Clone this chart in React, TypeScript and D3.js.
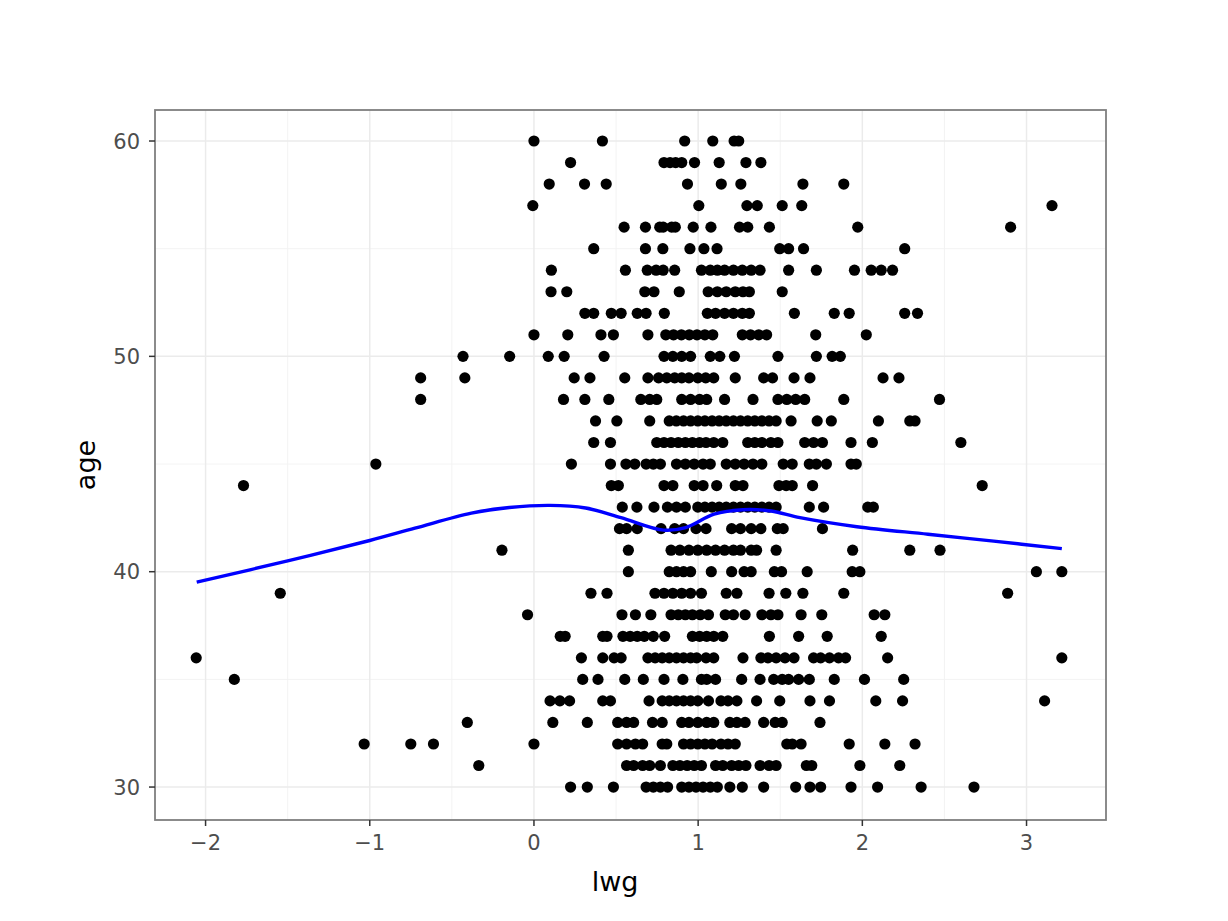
import React from "react";
import * as d3 from "d3";

const ages = [60, 59, 58, 57, 56, 55, 54, 53, 52, 51, 50, 49, 48, 47, 46, 45, 44, 43, 42, 41, 40, 39, 38, 37, 36, 35, 34, 33, 32, 31, 30];

const lwgByAge: number[][] = [
  [0, 0.417, 0.918, 1.089, 1.219, 1.247],
  [0.223, 0.792, 0.829, 0.863, 0.9, 0.978, 1.128, 1.291, 1.382],
  [0.093, 0.308, 0.44, 0.935, 1.141, 1.26, 1.638, 1.887],
  [-0.007, 1.004, 1.297, 1.36, 1.512, 1.631, 3.155],
  [0.549, 0.679, 0.766, 0.787, 0.839, 0.861, 0.97, 1.078, 1.252, 1.302, 1.434, 1.972, 2.903],
  [0.364, 0.679, 0.785, 0.95, 1.035, 1.115, 1.497, 1.551, 1.642, 2.258],
  [0.106, 0.557, 0.69, 0.744, 0.787, 0.857, 1.02, 1.074, 1.117, 1.161, 1.215, 1.269, 1.323, 1.377, 1.551, 1.72, 1.952, 2.054, 2.115, 2.184],
  [0.104, 0.2, 0.675, 0.731, 0.885, 1.061, 1.117, 1.171, 1.226, 1.273, 1.312, 1.512],
  [0.31, 0.364, 0.471, 0.531, 0.629, 0.683, 0.794, 1.056, 1.106, 1.161, 1.215, 1.269, 1.312, 1.586, 1.829, 1.92, 2.258, 2.336],
  [0, 0.206, 0.408, 0.484, 0.694, 0.803, 0.85, 0.898, 0.946, 0.993, 1.041, 1.089, 1.269, 1.319, 1.369, 1.417, 1.716, 2.024],
  [-0.432, -0.148, 0.087, 0.184, 0.427, 0.792, 0.846, 0.9, 0.954, 1.074, 1.132, 1.221, 1.486, 1.72, 1.816, 1.866],
  [-0.69, -0.421, 0.245, 0.341, 0.553, 0.694, 0.759, 0.809, 0.857, 0.9, 0.944, 0.998, 1.046, 1.095, 1.226, 1.399, 1.453, 1.584, 1.681, 2.126, 2.223],
  [-0.69, 0.18, 0.31, 0.456, 0.651, 0.705, 0.748, 0.9, 0.954, 1.009, 1.052, 1.161, 1.334, 1.486, 1.54, 1.594, 1.649, 1.887, 2.47],
  [0.375, 0.505, 0.705, 0.824, 0.867, 0.911, 0.954, 0.998, 1.041, 1.085, 1.128, 1.171, 1.215, 1.258, 1.302, 1.345, 1.388, 1.432, 1.475, 1.566, 1.725, 1.811, 2.098, 2.289, 2.321],
  [0.364, 0.466, 0.748, 0.792, 0.835, 0.879, 0.922, 0.965, 1.009, 1.048, 1.095, 1.15, 1.302, 1.345, 1.388, 1.443, 1.486, 1.649, 1.703, 1.757, 1.931, 2.061, 2.6],
  [-0.963, 0.228, 0.466, 0.56, 0.614, 0.683, 0.727, 0.77, 0.868, 0.922, 0.976, 1.03, 1.074, 1.171, 1.226, 1.28, 1.334, 1.388, 1.518, 1.573, 1.677, 1.72, 1.781, 1.931, 1.963],
  [-1.769, 0.471, 0.514, 0.792, 0.846, 0.976, 1.03, 1.113, 1.226, 1.273, 1.492, 1.536, 1.573, 1.697, 2.73],
  [0.538, 0.627, 0.731, 0.813, 0.868, 0.922, 0.998, 1.041, 1.085, 1.128, 1.171, 1.215, 1.258, 1.302, 1.345, 1.388, 1.432, 1.475, 1.677, 1.764, 2.033, 2.067],
  [0.521, 0.564, 0.629, 0.774, 0.857, 0.911, 0.987, 1.048, 1.204, 1.258, 1.323, 1.382, 1.482, 1.518, 1.757],
  [-0.195, 0.575, 0.835, 0.889, 0.944, 0.998, 1.052, 1.106, 1.161, 1.215, 1.258, 1.323, 1.356, 1.475, 1.941, 2.289, 2.473],
  [0.575, 0.824, 0.868, 0.911, 0.954, 1.08, 1.204, 1.28, 1.323, 1.464, 1.508, 1.664, 1.938, 1.985, 3.06, 3.215],
  [-1.545, 0.347, 0.445, 0.737, 0.792, 0.846, 0.9, 0.954, 1.02, 1.171, 1.236, 1.432, 1.534, 1.638, 1.887, 2.885],
  [-0.039, 0.536, 0.618, 0.712, 0.835, 0.879, 0.922, 0.965, 1.013, 1.063, 1.165, 1.215, 1.286, 1.388, 1.443, 1.486, 1.627, 1.753, 2.072, 2.137],
  [0.16, 0.19, 0.419, 0.445, 0.542, 0.586, 0.629, 0.672, 0.727, 0.796, 0.965, 1.009, 1.052, 1.095, 1.15, 1.434, 1.612, 1.786, 2.115],
  [-2.057, 0.289, 0.419, 0.488, 0.531, 0.694, 0.738, 0.781, 0.824, 0.868, 0.911, 0.954, 0.991, 1.048, 1.095, 1.273, 1.382, 1.425, 1.475, 1.529, 1.584, 1.703, 1.746, 1.8, 1.855, 1.898, 2.154, 3.215],
  [-1.825, 0.297, 0.39, 0.553, 0.666, 0.792, 0.907, 1.02, 1.052, 1.106, 1.265, 1.377, 1.46, 1.512, 1.551, 1.612, 1.677, 1.829, 2.013, 2.252],
  [0.098, 0.158, 0.217, 0.419, 0.466, 0.701, 0.781, 0.824, 0.868, 0.911, 0.954, 0.998, 1.063, 1.139, 1.182, 1.236, 1.356, 1.497, 1.681, 1.8, 2.082, 2.245, 3.11],
  [-0.406, 0.115, 0.325, 0.51, 0.564, 0.607, 0.722, 0.781, 0.9, 0.944, 0.998, 1.052, 1.095, 1.193, 1.236, 1.286, 1.399, 1.469, 1.512, 1.742],
  [-1.034, -0.75, -0.612, 0, 0.51, 0.564, 0.618, 0.662, 0.781, 0.809, 0.911, 0.954, 0.998, 1.041, 1.085, 1.139, 1.182, 1.226, 1.54, 1.573, 1.627, 1.92, 2.137, 2.321],
  [-0.336, 0.564, 0.607, 0.662, 0.705, 0.77, 0.846, 0.889, 0.933, 0.976, 1.02, 1.106, 1.15, 1.204, 1.247, 1.291, 1.377, 1.432, 1.475, 1.659, 1.692, 1.985, 2.228],
  [0.223, 0.325, 0.484, 0.683, 0.727, 0.77, 0.814, 0.9, 0.944, 0.987, 1.03, 1.074, 1.117, 1.193, 1.269, 1.399, 1.594, 1.681, 1.746, 1.931, 2.093, 2.358, 2.68],
];

const smoothX = [-2.054, -1.5, -1.0, -0.725, -0.381, -0.15, 0.097, 0.315, 0.53, 0.79, 0.924, 1.097, 1.272, 1.444, 1.62, 1.967, 2.4, 2.8, 3.215];
const smoothY = [39.52, 40.5, 41.45, 42.02, 42.72, 42.98, 43.08, 42.96, 42.51, 41.93, 42.05, 42.67, 42.88, 42.82, 42.51, 42.09, 41.74, 41.42, 41.07];

const xTicks = [-2, -1, 0, 1, 2, 3];
const xMinor = [-1.5, -0.5, 0.5, 1.5, 2.5];
const yTicks = [30, 40, 50, 60];
const yMinor = [35, 45, 55];

const W = 1228;
const H = 921;
const L = 155, R = 1106, T = 110, B = 820;

export default function App() {
  const x = d3.scaleLinear().domain([-2.308, 3.484]).range([L, R]);
  const y = d3.scaleLinear().domain([28.47, 61.44]).range([B, T]);

  const points: { lx: number; ag: number }[] = [];
  ages.forEach((a, i) => lwgByAge[i].forEach((v) => points.push({ lx: v, ag: a })));

  const line = d3
    .line<number>()
    .x((_, i) => x(smoothX[i]))
    .y((d) => y(d))
    .curve(d3.curveCatmullRom.alpha(0.5));

  const font = "DejaVu Sans, sans-serif";

  return (
    <svg width={W} height={H} style={{ position: "absolute", left: 0, top: 0, background: "#fff" }}>
      <rect x={0} y={0} width={W} height={H} fill="#fff" />
      <rect x={L} y={T} width={R - L} height={B - T} fill="#fff" />
      {xMinor.map((t) => (
        <line key={"xm" + t} x1={x(t)} x2={x(t)} y1={T} y2={B} stroke="#f2f2f2" strokeWidth={0.9} />
      ))}
      {yMinor.map((t) => (
        <line key={"ym" + t} x1={L} x2={R} y1={y(t)} y2={y(t)} stroke="#f2f2f2" strokeWidth={0.9} />
      ))}
      {xTicks.map((t) => (
        <line key={"xg" + t} x1={x(t)} x2={x(t)} y1={T} y2={B} stroke="#ebebeb" strokeWidth={1.5} />
      ))}
      {yTicks.map((t) => (
        <line key={"yg" + t} x1={L} x2={R} y1={y(t)} y2={y(t)} stroke="#ebebeb" strokeWidth={1.5} />
      ))}
      <g>
        {points.map((p, i) => (
          <circle key={i} cx={x(p.lx)} cy={y(p.ag)} r={5.6} fill="#000" />
        ))}
      </g>
      <path d={line(smoothY) || ""} fill="none" stroke="#0000ff" strokeWidth={3.4} />
      <rect x={L} y={T} width={R - L} height={B - T} fill="none" stroke="#7f7f7f" strokeWidth={1.8} />
      {xTicks.map((t) => (
        <g key={"xt" + t}>
          <line x1={x(t)} x2={x(t)} y1={B} y2={B + 6} stroke="#333" strokeWidth={1.5} />
          <text x={x(t)} y={B + 30} textAnchor="middle" fontFamily={font} fontSize={21} fill="#4d4d4d">
            {t < 0 ? "\u2212" + Math.abs(t) : String(t)}
          </text>
        </g>
      ))}
      {yTicks.map((t) => (
        <g key={"yt" + t}>
          <line x1={L - 6} x2={L} y1={y(t)} y2={y(t)} stroke="#333" strokeWidth={1.5} />
          <text x={L - 15} y={y(t) + 7.6} textAnchor="end" fontFamily={font} fontSize={21} fill="#4d4d4d">
            {t}
          </text>
        </g>
      ))}
      <text x={615} y={891} textAnchor="middle" fontFamily={font} fontSize={27} fill="#000">lwg</text>
      <text transform={`translate(95, ${(T + B) / 2}) rotate(-90)`} textAnchor="middle" fontFamily={font} fontSize={27} fill="#000">age</text>
    </svg>
  );
}
